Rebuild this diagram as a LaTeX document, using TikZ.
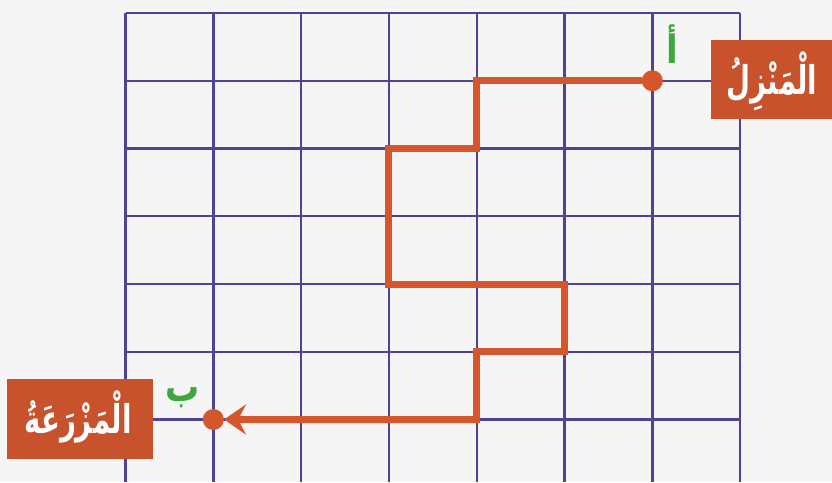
\documentclass[tikz,border=0pt]{standalone}
\usepackage{fontspec}
\usetikzlibrary{arrows.meta}
\TeXXeTstate=1
\newfontfamily\arabicfont[Script=Arabic]{DejaVu Sans}
\definecolor{gridc}{RGB}{82,66,150}
\definecolor{boxc}{RGB}{200,82,44}
\definecolor{pathc}{RGB}{214,86,44}
\definecolor{greenc}{RGB}{62,168,62}
\definecolor{paper}{RGB}{245,245,245}
\tikzset{
  gridline/.style={draw=gridc, line width=2.4pt},
  route/.style={draw=pathc, line width=7pt, line join=miter},
  dot/.style={circle, fill=pathc, inner sep=0pt, minimum size=21pt},
  namebox/.style={fill=boxc, text=white, inner sep=0pt, font=\arabicfont\bfseries\fontsize{30}{36}\selectfont},
  letter/.style={text=greenc, inner sep=0pt, font=\arabicfont\bfseries\fontsize{34}{40}\selectfont},
}
\begin{document}
\begin{tikzpicture}[x=1pt,y=-1pt]
\fill[paper] (0,0) rectangle (832,482);
\useasboundingbox (0,0) rectangle (832,482);
% grid
\foreach \i in {0,...,7} {
  \draw[gridline] ({125.5+87.8*\i},13) -- ({125.5+87.8*\i},482);
}
\foreach \j in {0,...,6} {
  \draw[gridline] (125.5,{13+67.75*\j}) -- (740.1,{13+67.75*\j});
}
\foreach \i in {0,...,7} {
  \foreach \j in {0,...,6} {
    \coordinate (p-\i-\j) at ({125.5+87.8*\i},{13+67.75*\j});
  }
}
% boxes
\node[namebox, minimum width=123pt, minimum height=79pt] (home) at (772.5,79.5) {};
\node[namebox, minimum width=146pt, minimum height=80pt] (farm) at (80,419) {};
\node[namebox, fill=none] (hometext) at (772,81) {\scalebox{0.92}[1.32]{\beginR الْمَنْزِلُ\endR}};
\node[namebox, fill=none] (farmtext) at (78,417) {\scalebox{0.92}[1.32]{\beginR الْمَزْرَعَةُ\endR}};
% end points
\node[dot] (A) at (p-6-1) {};
\node[dot] (B) at (p-1-6) {};
% route
\draw[route, -{Stealth[length=22pt, width=30pt, inset=8pt]}]
  (A) -- (p-4-1) -- (p-4-2) -- (p-3-2) -- (p-3-4) -- (p-5-4) -- (p-5-5) -- (p-4-5) -- (p-4-6) -- (B);
% letters
\node[letter] (la) at (672,44) {\scalebox{1}[1.15]{\beginR أ\endR}};
\node[letter] (lb) at (183,398) {\scalebox{1}[1.25]{\beginR ب\endR}};
\end{tikzpicture}
\end{document}
